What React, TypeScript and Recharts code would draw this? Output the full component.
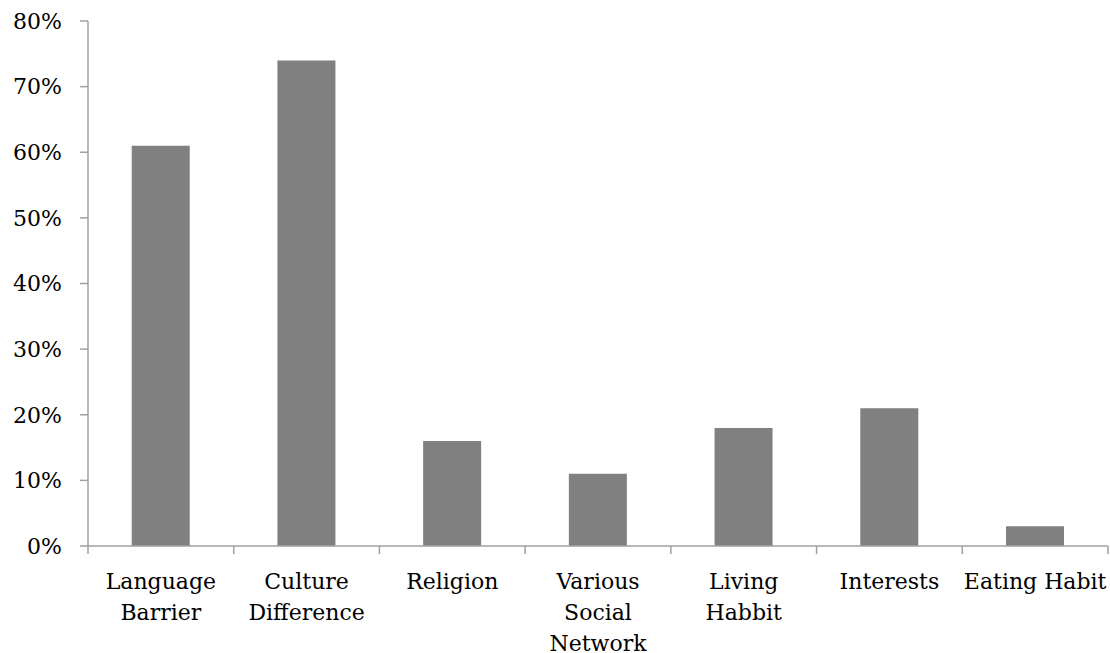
import { BarChart, Bar, XAxis, YAxis } from "recharts";

const categories = [
  "Language\nBarrier",
  "Culture\nDifference",
  "Religion",
  "Various\nSocial\nNetwork",
  "Living\nHabbit",
  "Interests",
  "Eating Habit",
];
const shares = [61, 74, 16, 11, 18, 21, 3];
const yTicks = [0, 10, 20, 30, 40, 50, 60, 70, 80];

const data = categories.map((name, i) => ({ name, share: shares[i] }));

const W = 1110;
const H = 653;
const LEFT = 88;
const RIGHT = 2;
const BAND = (W - LEFT - RIGHT) / categories.length;
const FONT = "'DejaVu Serif', serif";
const AXIS = "#a0a0a0";

function CategoryTick(props: any) {
  const { x, y, payload, index, visibleTicksCount } = props;
  const lines = String(payload.value).split("\n");
  const half = BAND / 2;
  return (
    <g>
      <line x1={x - half} y1={y - 8} x2={x - half} y2={y} stroke={AXIS} strokeWidth={1.5} />
      {index === visibleTicksCount - 1 && (
        <line x1={x + half} y1={y - 8} x2={x + half} y2={y} stroke={AXIS} strokeWidth={1.5} />
      )}
      <text x={x} y={y} textAnchor="middle" fill="#000" fontSize={22} fontFamily={FONT}>
        {lines.map((l, i) => (
          <tspan key={i} x={x} dy={i === 0 ? 35 : 31}>
            {l}
          </tspan>
        ))}
      </text>
    </g>
  );
}

export default function App() {
  return (
    <div style={{ position: "absolute", left: 0, top: 0, background: "#fff" }}>
      <BarChart
        width={W}
        height={H}
        data={data}
        barCategoryGap="30%"
        margin={{ top: 21, right: RIGHT, left: 0, bottom: 0 }}
      >
        <XAxis
          dataKey="name"
          height={107}
          interval={0}
          tickLine={false}
          tickSize={8}
          tickMargin={0}
          stroke={AXIS}
          strokeWidth={1.5}
          tick={<CategoryTick />}
        />
        <YAxis
          width={LEFT}
          domain={[0, 80]}
          ticks={yTicks}
          interval={0}
          tickFormatter={(v: number) => `${v}%`}
          tickSize={8}
          tickMargin={18}
          stroke={AXIS}
          strokeWidth={1.5}
          tick={{ fill: "#000", fontSize: 22, fontFamily: FONT }}
        />
        <Bar dataKey="share" fill="#808080" isAnimationActive={false} />
      </BarChart>
    </div>
  );
}
